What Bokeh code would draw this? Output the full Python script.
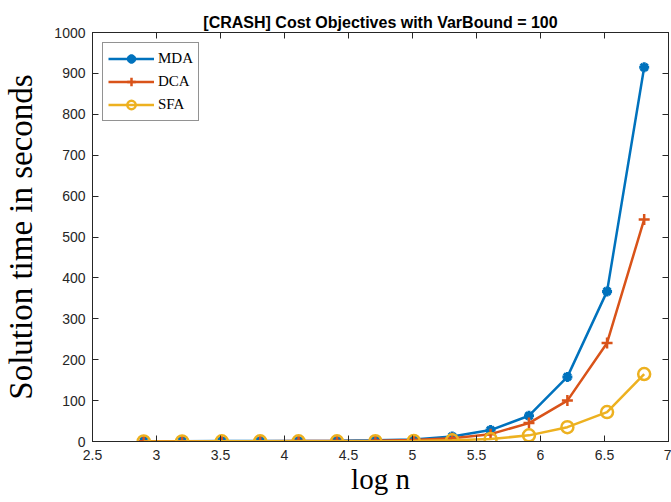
from bokeh.plotting import figure
from bokeh.models import LinearAxis, FixedTicker, Legend, LegendItem, Range1d, CustomJSTickFormatter
from bokeh.embed import file_html
from bokeh.resources import INLINE

log_n = [2.90, 3.20, 3.51, 3.81, 4.11, 4.41, 4.71, 5.01, 5.31, 5.61, 5.91, 6.21, 6.52, 6.81]
mda = [0.8, 0.9, 1.0, 1.1, 1.5, 2.0, 2.8, 5.0, 12, 28, 63, 158, 367, 915]
dca = [0.6, 0.7, 0.8, 0.9, 1.1, 1.5, 2.0, 3.5, 8, 18, 45, 100, 241, 543]
sfa = [0.3, 0.3, 0.4, 0.4, 0.5, 0.6, 0.8, 1.5, 3, 6, 15, 35, 72, 165]

x_ticks = [2.5, 3, 3.5, 4, 4.5, 5, 5.5, 6, 6.5, 7]
x_tick_labels = ["2.5", "3", "3.5", "4", "4.5", "5", "5.5", "6", "6.5", "7"]
y_ticks = [0, 100, 200, 300, 400, 500, 600, 700, 800, 900, 1000]

C_MDA = "#0072BD"
C_DCA = "#D95319"
C_SFA = "#EDB120"
AX = "#262626"

p = figure(width=671, height=502, output_backend="svg", toolbar_location=None,
           x_range=Range1d(x_ticks[0], x_ticks[-1]), y_range=Range1d(y_ticks[0], y_ticks[-1]),
           min_border_left=92, min_border_right=3, min_border_bottom=61, min_border_top=32)
p.background_fill_color = "white"
p.border_fill_color = "white"
p.outline_line_color = AX
p.xgrid.visible = False
p.ygrid.visible = False

p.title.text = "[CRASH] Cost Objectives with VarBound = 100"
p.title.align = "center"
p.title.text_font = "Liberation Sans"
p.title.text_font_size = "16px"
p.title.text_font_style = "bold"
p.title.text_color = "black"
p.title.standoff = 3

p.xaxis.axis_label = "log n"
p.yaxis.axis_label = "Solution time in seconds"
for ax in [p.xaxis[0], p.yaxis[0]]:
    ax.axis_label_text_font = "Liberation Serif"
    ax.axis_label_text_font_size = "33px"
    ax.axis_label_text_font_style = "normal"
    ax.axis_label_text_color = "black"
    ax.major_label_text_font = "Liberation Sans"
    ax.major_label_text_font_size = "14px"
    ax.major_label_text_color = AX
    ax.axis_line_color = AX
    ax.major_tick_line_color = AX
    ax.major_tick_in = 6
    ax.major_tick_out = 0
    ax.minor_tick_line_color = None
p.xaxis.axis_label_text_font_size = "29px"
p.xaxis.ticker = FixedTicker(ticks=x_ticks)
p.xaxis.major_label_overrides = dict(zip(x_ticks, x_tick_labels))
p.yaxis.ticker = FixedTicker(ticks=y_ticks)
p.yaxis.axis_label_standoff = 12
p.xaxis.axis_label_standoff = 0
p.xaxis.major_label_standoff = 8
p.yaxis.major_label_standoff = 7

blank = CustomJSTickFormatter(code="return '';")
top = LinearAxis(ticker=FixedTicker(ticks=x_ticks), formatter=blank,
                 major_label_standoff=0,
                 major_tick_in=6, major_tick_out=0, minor_tick_line_color=None,
                 axis_line_color=AX, major_tick_line_color=AX)
right = LinearAxis(ticker=FixedTicker(ticks=y_ticks), formatter=blank,
                   major_label_standoff=0,
                   major_tick_in=6, major_tick_out=0, minor_tick_line_color=None,
                   axis_line_color=AX, major_tick_line_color=AX)
p.add_layout(top, "above")
p.add_layout(right, "right")

items = []
l1 = p.line(log_n, mda, line_color=C_MDA, line_width=2.5)
m1 = p.scatter(log_n, mda, marker="asterisk", size=10, line_color=C_MDA, line_width=3)
m1b = p.scatter(log_n, mda, marker="circle", size=6, fill_color=C_MDA, line_color=C_MDA)
items.append(LegendItem(label="MDA", renderers=[l1, m1, m1b]))

l2 = p.line(log_n, dca, line_color=C_DCA, line_width=2.5)
m2 = p.scatter(log_n, dca, marker="cross", size=11, line_color=C_DCA, line_width=2.5)
items.append(LegendItem(label="DCA", renderers=[l2, m2]))

l3 = p.line(log_n, sfa, line_color=C_SFA, line_width=2.5)
m3 = p.scatter(log_n, sfa, marker="circle", size=12, fill_color=None, line_color=C_SFA, line_width=2.5)
items.append(LegendItem(label="SFA", renderers=[l3, m3]))

legend = Legend(items=items, location="top_left")
legend.label_text_font = "Liberation Serif"
legend.label_text_font_size = "15px"
legend.label_text_color = "black"
legend.border_line_color = AX
legend.border_line_width = 1
legend.glyph_width = 46
legend.glyph_height = 21
legend.spacing = 2
legend.padding = 5
legend.margin = 10
legend.label_standoff = 4
p.add_layout(legend)

open("out.html", "w").write(file_html(p, INLINE))
